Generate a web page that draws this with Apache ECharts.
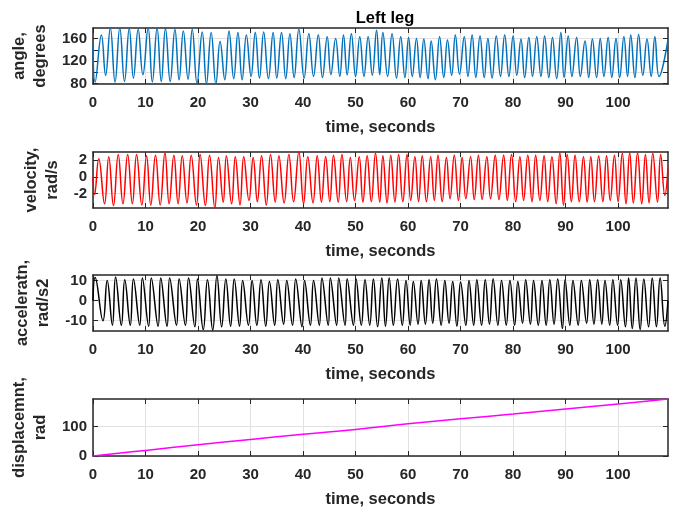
<!DOCTYPE html>
<html>
<head>
<meta charset="utf-8">
<script src="https://cdn.jsdelivr.net/npm/echarts@6/dist/echarts.min.js"></script>
<style>
  html, body { margin: 0; padding: 0; background: #fff; }
  #main { width: 683px; height: 515px; }
</style>
</head>
<body>
<div id="main"></div>
<script>
// time axis
const xTicks = [0, 10, 20, 30, 40, 50, 60, 70, 80, 90, 100];
const tMax = 109.5;

// y ticks per panel
const angleTicks = [80, 100, 120, 140, 160];
const angleLabels = [80, 120, 160];
const velTicks = [-2, 0, 2];
const accTicks = [-10, 0, 10];
const dispTicks = [0, 100];

// [time, value] turning points
const angle = [
  [0,150],[0.4,83],[1.6,166.5],[2.4,95],[3.3,179],[4.2,83],[5.1,179],[6.0,84],[6.9,178],[7.7,90],
  [8.6,177],[9.5,96],[10.5,179],[11.3,83],[12.2,179],[13.0,84],[13.8,178],[14.7,84],[15.6,177],[16.4,87],
  [17.2,173.5],[18.1,88],[18.9,177],[19.8,81],[20.8,172],[21.6,79.5],[22.5,171],[23.4,79.5],[24.2,155],[25.1,87],
  [25.9,173.5],[26.8,89],[27.6,171],[28.4,87],[29.2,166.5],[30.1,93],[30.9,171],[31.7,90],[32.5,172],[33.4,89],
  [34.3,171],[35.0,90],[35.9,171],[36.7,89],[37.5,169],[38.3,91],[39.2,177],[40.2,90],[41.1,169],[42.0,93],
  [42.9,166.5],[43.7,91],[44.6,163.5],[45.3,96],[46.2,160.5],[47.0,93],[47.7,166.5],[48.4,96],[49.2,169],[50.0,93],
  [50.8,163.5],[51.6,93],[52.4,163.5],[53.2,95],[54.0,175],[54.6,96],[55.2,171],[56.1,93],[56.95,169],[57.8,90],
  [58.6,163.5],[59.4,91],[60.1,162],[60.8,93],[61.6,160.5],[62.3,91],[63.0,159.5],[63.8,89],[64.4,156],[65.2,87],
  [66.0,163.5],[66.8,91],[67.5,157.5],[68.3,95],[69.0,166.5],[69.8,97],[70.7,163.5],[71.4,93],[72.2,166.5],[72.9,91],
  [73.7,165],[74.5,91],[75.2,160.5],[76.0,90],[76.8,165],[77.6,93],[78.4,166.5],[79.2,93],[80.0,165],[80.7,95],
  [81.5,159.5],[82.2,91],[83.0,162],[83.7,93],[84.5,163.5],[85.3,93],[86.0,165],[86.8,91],[87.5,162],[88.3,89],
  [89.1,171],[89.7,91],[90.5,165],[91.2,93],[92.1,162],[92.8,93],[93.7,156],[94.4,91],[95.1,159.5],[95.9,91],
  [96.6,160.5],[97.3,93],[98.1,162],[98.8,91],[99.6,160.5],[100.3,91],[101.1,163.5],[101.8,93],[102.4,166.5],[103.2,91],
  [103.9,167.5],[104.7,95],[105.5,159.5],[106.3,93],[107.0,163.5],[107.8,93],[109.5,158]
];

const velocity = [
  [0,0],[0.3,-2.1],[1.1,2.15],[2.2,-3.2],[3.0,2.4],[3.9,-3.4],[4.8,2.65],[5.7,-3.2],[6.6,2.65],[7.5,-3.2],
  [8.3,2.65],[9.3,-3.35],[10.2,2.5],[11.0,-3.35],[11.9,2.55],[12.8,-3.35],[13.7,2.85],[14.5,-3.2],[15.4,2.55],[16.2,-3.2],
  [17.0,2.5],[17.9,-3.1],[18.7,2.55],[19.7,-3.35],[20.4,2.65],[21.4,-3.4],[22.2,2.55],[23.2,-3.7],[23.9,2.3],[24.8,-3.0],
  [25.4,2.5],[26.4,-3.2],[27.1,2.4],[28.0,-3.35],[28.7,2.4],[29.7,-2.8],[30.5,2.3],[31.3,-2.95],[32.1,2.5],[33.0,-3.35],
  [33.8,2.65],[34.7,-3.0],[35.4,2.5],[36.4,-3.1],[37.3,2.65],[38.2,-2.95],[39.2,2.95],[40.1,-3.2],[40.9,2.4],[41.9,-3.1],
  [42.7,2.5],[43.5,-3.0],[44.3,2.4],[45.1,-2.95],[45.8,2.55],[46.7,-3.0],[47.4,2.65],[48.3,-2.95],[49.0,2.3],[49.8,-2.8],
  [50.7,2.4],[51.4,-3.0],[52.2,2.5],[53.0,-2.95],[53.8,2.8],[54.6,-3.0],[55.2,2.5],[56.0,-3.1],[56.7,2.55],[57.5,-3.0],
  [58.2,2.65],[59.0,-2.95],[59.8,2.65],[60.5,-2.8],[61.3,2.4],[62.0,-2.95],[62.7,2.5],[63.5,-2.95],[64.3,2.4],[65.0,-2.8],
  [65.7,2.55],[66.5,-2.95],[67.3,2.3],[68.0,-2.6],[68.8,2.55],[69.6,-2.8],[70.3,2.3],[71.0,-2.6],[71.9,2.4],[72.6,-2.7],
  [73.4,2.55],[74.1,-2.7],[75.0,2.4],[75.7,-2.6],[76.6,2.55],[77.3,-2.7],[78.2,2.55],[78.9,-2.8],[79.7,2.65],[80.5,-2.95],
  [81.3,2.4],[82.0,-2.8],[82.8,2.55],[83.6,-2.95],[84.3,2.55],[85.1,-2.8],[85.9,2.5],[86.6,-2.95],[87.4,2.4],[88.2,-3.2],
  [88.9,2.85],[89.6,-3.35],[90.3,2.65],[91.1,-2.95],[91.8,2.55],[92.6,-2.95],[93.4,2.4],[94.1,-3.0],[94.8,2.4],[95.5,-2.95],
  [96.3,2.5],[97.1,-2.95],[97.8,2.5],[98.5,-2.8],[99.3,2.55],[100.0,-2.95],[100.8,2.8],[101.5,-3.2],[102.2,2.85],[102.9,-3.1],
  [103.7,2.85],[104.5,-3.2],[105.2,2.65],[105.9,-3.1],[106.6,2.8],[107.5,-3.0],[108.1,2.65],[108.9,-2.2],[109.5,1.0]
];

const accel = [
  [0,0],[0.4,11.5],[1.9,-10.1],[2.7,10.1],[3.7,-12.3],[4.3,11.8],[5.4,-12.3],[6.05,10.4],[7.1,-12.3],[7.7,10.8],
  [8.9,-12.3],[9.4,11.3],[10.6,-12.8],[11.1,11.3],[12.4,-12.8],[12.9,11.3],[14.1,-12.8],[14.6,11.3],[15.9,-12.3],[16.4,10.8],
  [17.6,-12.3],[18.2,11.3],[19.4,-13.1],[19.9,10.8],[21.0,-14.5],[21.8,10.4],[22.8,-14.8],[23.6,12.4],[24.5,-13.1],[25.3,10.8],
  [26.2,-12.8],[26.9,10.8],[27.9,-12.8],[28.5,10.1],[29.6,-12.3],[30.3,10.1],[31.2,-12.3],[32.0,10.4],[32.9,-12.8],[33.6,9.6],
  [34.6,-12.3],[35.2,10.4],[36.3,-11.8],[36.9,10.1],[38.0,-12.3],[38.6,10.8],[39.8,-13.1],[40.3,10.1],[41.4,-12.3],[42.0,10.1],
  [43.1,-12.3],[43.6,11.3],[44.8,-12.3],[45.2,11.3],[46.4,-12.3],[46.8,11.3],[48.0,-12.3],[48.4,10.8],[49.6,-12.3],[50.1,10.8],
  [51.1,-12.3],[51.8,10.4],[52.7,-12.3],[53.4,10.8],[54.2,-13.1],[55.0,11.3],[55.7,-12.8],[56.4,11.3],[57.2,-12.3],[58.0,10.8],
  [58.9,-12.3],[59.6,10.1],[60.4,-12.3],[61.0,9.6],[61.9,-11.8],[62.5,10.1],[63.3,-11.8],[64.0,10.4],[64.7,-11.3],[65.4,10.8],
  [66.3,-12.3],[67.0,10.1],[67.8,-11.3],[68.5,9.6],[69.3,-12.8],[70.0,9.3],[71.0,-12.3],[71.6,10.1],[72.5,-12.3],[73.1,10.4],
  [74.0,-12.3],[74.7,10.4],[75.5,-11.8],[76.2,10.8],[77.1,-12.3],[77.8,10.1],[78.7,-12.3],[79.4,10.1],[80.3,-12.3],[80.9,9.6],
  [81.8,-11.3],[82.4,10.4],[83.3,-11.8],[83.9,10.1],[84.8,-12.3],[85.5,10.1],[86.3,-12.3],[87.0,10.4],[87.8,-11.8],[88.5,10.8],
  [89.4,-14.0],[89.9,10.4],[90.8,-12.3],[91.4,10.1],[92.4,-12.3],[93.0,10.1],[94.0,-11.3],[94.6,10.4],[95.4,-11.8],[96.1,10.4],
  [96.9,-11.8],[97.5,10.1],[98.4,-12.3],[99.0,10.4],[99.9,-12.3],[100.5,10.4],[101.4,-13.1],[102.0,11.3],[102.7,-14.0],[103.4,11.3],
  [104.2,-14.5],[104.9,10.8],[105.8,-13.1],[106.5,11.3],[107.3,-13.1],[108.0,11.3],[108.9,-12.8],[109.5,0]
];

const displacement = [
  [0,0],[10,19],[20,38],[30,56],[40,74],[50,90],[60,109],[70,126],[80,142],[90,159],[100,176],[109.5,193]
];

const panels = [
  { top: 28,  height: 56, data: angle,        color: '#0072BD', min: 79.5, max: 179,  ticks: angleTicks, labels: angleLabels, name: 'angle,\ndegrees',      gap: 39 },
  { top: 152, height: 56, data: velocity,     color: '#FF0000', min: -3.7, max: 2.95, ticks: velTicks,   labels: velTicks,    name: 'velocity,\nrad/s',      gap: 27 },
  { top: 275, height: 56, data: accel,        color: '#000000', min: -15.2, max: 12.8, ticks: accTicks,  labels: accTicks,    name: 'acceleratn,\nrad/s2',   gap: 35 },
  { top: 399, height: 57, data: displacement, color: '#FF00FF', min: 0,    max: 193,  ticks: dispTicks,  labels: dispTicks,   name: 'displacemnt,\nrad',     gap: 38 }
];

const FONT = 'Liberation Sans, Arial, sans-serif';
const INK = '#262626';
const GRIDC = '#e2e2e2';
const TICK_FS = 15;
const LABEL_FS = 16.5;

const grid = [], xAxis = [], yAxis = [], series = [];
panels.forEach((p, i) => {
  grid.push({ left: 93, top: p.top, width: 575, height: p.height });
  const line = { show: true, onZero: false, lineStyle: { color: INK, width: 1.5 } };
  // bottom x axis
  xAxis.push({
    type: 'value', gridIndex: i, min: 0, max: tMax,
    axisLine: line,
    axisTick: { inside: true, length: 5, customValues: xTicks, lineStyle: { color: INK } },
    axisLabel: { customValues: xTicks, color: INK, fontSize: TICK_FS, fontWeight: 'bold', fontFamily: FONT, margin: 11 },
    splitLine: { show: true, lineStyle: { color: GRIDC, width: 1 } },
    name: 'time, seconds', nameLocation: 'middle', nameGap: 35,
    nameTextStyle: { color: INK, fontSize: LABEL_FS, fontWeight: 'bold', fontFamily: FONT }
  });
  // top x axis (box + ticks)
  xAxis.push({
    type: 'value', gridIndex: i, position: 'top', min: 0, max: tMax,
    axisLine: line,
    axisTick: { inside: true, length: 5, customValues: xTicks, lineStyle: { color: INK } },
    axisLabel: { show: false }, splitLine: { show: false }
  });
  // left y axis
  yAxis.push({
    type: 'value', gridIndex: i, min: p.min, max: p.max,
    axisLine: line,
    axisTick: { inside: true, length: 5, customValues: p.ticks, lineStyle: { color: INK } },
    axisLabel: { customValues: p.labels, color: INK, fontSize: TICK_FS, fontWeight: 'bold', fontFamily: FONT, margin: 6 },
    splitLine: { show: true, lineStyle: { color: GRIDC, width: 1 } },
    name: p.name, nameLocation: 'middle', nameRotate: 90, nameGap: p.gap,
    nameTextStyle: { color: INK, fontSize: LABEL_FS, fontWeight: 'bold', fontFamily: FONT, lineHeight: 21, align: 'center' }
  });
  // right y axis (box + ticks)
  yAxis.push({
    type: 'value', gridIndex: i, position: 'right', min: p.min, max: p.max,
    axisLine: line,
    axisTick: { inside: true, length: 5, customValues: p.ticks, lineStyle: { color: INK } },
    axisLabel: { show: false }, splitLine: { show: false }
  });
  series.push({
    type: 'line', xAxisIndex: i * 2, yAxisIndex: i * 2,
    data: p.data, showSymbol: false, smooth: 0.45,
    lineStyle: { color: p.color, width: 1.5 }, itemStyle: { color: p.color },
    clip: true, z: 1
  });
});

const chart = echarts.init(document.getElementById('main'), null, { renderer: 'canvas' });
chart.setOption({
  animation: false,
  backgroundColor: '#ffffff',
  title: {
    text: 'Left leg', left: 380, top: 5, textAlign: 'center',
    textStyle: { color: '#000', fontSize: LABEL_FS, fontWeight: 'bold', fontFamily: FONT }
  },
  grid: grid,
  xAxis: xAxis,
  yAxis: yAxis,
  series: series
});
</script>
</body>
</html>
